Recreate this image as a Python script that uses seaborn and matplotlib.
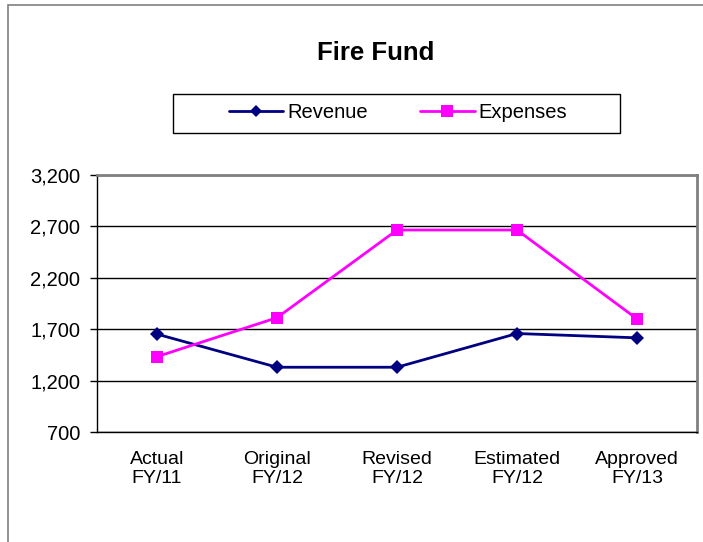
import pandas as pd
import matplotlib
matplotlib.use("Agg")
import matplotlib.pyplot as plt
import seaborn as sns
from matplotlib.patches import Rectangle

# chart data
categories = ["Actual\nFY/11", "Original\nFY/12", "Revised\nFY/12", "Estimated\nFY/12", "Approved\nFY/13"]
revenue = [1652, 1330, 1330, 1658, 1616]
expenses = [1433, 1812, 2665, 2665, 1800]
y_ticks = [700, 1200, 1700, 2200, 2700, 3200]

sns.set_style("white")
plt.rcParams["font.family"] = ["Liberation Sans", "DejaVu Sans"]
plt.rcParams["text.color"] = "black"
plt.rcParams["xtick.color"] = "black"
plt.rcParams["ytick.color"] = "black"

df = pd.DataFrame({
    "category": categories * 2,
    "value": revenue + expenses,
    "series": ["Revenue"] * len(categories) + ["Expenses"] * len(categories),
})

fig = plt.figure(figsize=(7.03, 5.42), dpi=100)
fig.patches.append(Rectangle((8 / 703, -0.1), 1.2, 1.1 - 5 / 542, transform=fig.transFigure,
                             fill=False, edgecolor="#808080", linewidth=1.2))
ax = fig.add_axes([97 / 703, 1 - 432 / 542, 600 / 703, 257 / 542])

sns.lineplot(data=df, x="category", y="value", hue="series", style="series",
             palette={"Revenue": "#000080", "Expenses": "#FF00FF"},
             markers={"Revenue": "D", "Expenses": "s"}, dashes=False,
             linewidth=2, markeredgewidth=0, sort=False, ax=ax)
for line, ms in zip(ax.lines, [7, 8.5]):
    line.set_markersize(ms)

ax.set_xlim(-0.5, len(categories) - 0.5)
ax.set_ylim(y_ticks[0], y_ticks[-1])
ax.set_yticks(y_ticks)
ax.set_yticklabels([f"{v:,}" for v in y_ticks], fontsize=14.5)
ax.set_xticks(range(len(categories)))
ax.set_xticklabels(categories, fontsize=14, linespacing=1.12)
ax.set_xticks([i - 0.5 for i in range(len(categories) + 1)], minor=True)
ax.tick_params(axis="x", which="major", length=0, pad=14)
ax.tick_params(axis="x", which="minor", length=5, width=1, color="black", direction="out")
ax.tick_params(axis="y", which="major", length=5, width=1, color="black", direction="out", left=True, pad=7)
ax.yaxis.grid(True, color="black", linewidth=1)
ax.set_axisbelow(True)
for side in ["top", "right"]:
    ax.spines[side].set_color("#808080")
    ax.spines[side].set_linewidth(2)
for side in ["left", "bottom"]:
    ax.spines[side].set_color("black")
    ax.spines[side].set_linewidth(1)
ax.set_xlabel("")
ax.set_ylabel("")

handles, labels = ax.get_legend_handles_labels()
leg = ax.legend(handles, labels, ncol=2, loc="center", bbox_to_anchor=(398 / 703, 1 - 113 / 542),
                bbox_transform=fig.transFigure, fontsize=14.5, frameon=False,
                handlelength=2.7, columnspacing=2.6, handletextpad=0.2)
for h, ms in zip(leg.legend_handles, [6, 8]):
    h.set_markersize(ms)
fig.patches.append(Rectangle((173 / 703, 1 - 133 / 542), 447 / 703, 39 / 542, transform=fig.transFigure,
                             fill=False, edgecolor="black", linewidth=1))

fig.text(376 / 703, 1 - 53 / 542, "Fire Fund", ha="center", va="center", fontsize=18.5, fontweight="bold")

fig.savefig("out.png", dpi=100)
